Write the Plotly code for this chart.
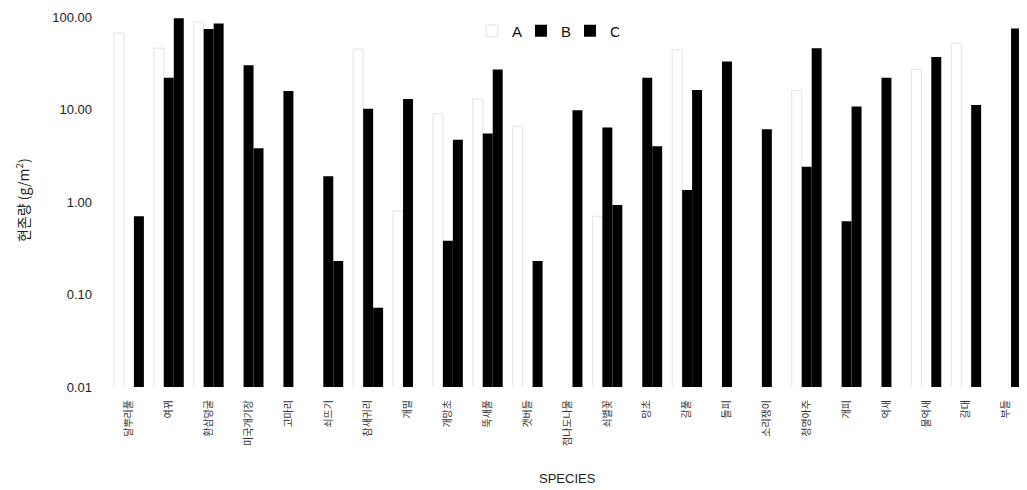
import plotly.graph_objects as go

categories = ["달뿌리풀", "여뀌", "환삼덩굴", "미국개기장", "고마리", "쇠뜨기", "참새귀리",
              "개밀", "개망초", "뚝새풀", "갯버들", "점나도나물", "쇠별꽃", "망초", "갈풀",
              "돌피", "소리쟁이", "청명아주", "개피", "억새", "물억새", "갈대", "부들"]

series_A = [67, 46, 88, None, None, None, 45, 0.8, 9, 13, 6.6, None, 0.7, None, 44,
            None, None, 16, None, None, 27, 52, None]
series_B = [None, 22, 74, 30, 15.8, 1.9, 10.2, 13, 0.38, 5.5, None, None, 6.4, 22, 1.35,
            33, 6.1, 2.4, 0.62, 22, None, None, None]
series_C = [0.7, 97, 85, 3.8, None, 0.23, 0.072, None, 4.7, 27, 0.23, 9.8, 0.93, 4.0, 16.2,
            None, None, 46, 10.8, None, 37, 11.2, 75]

y_tickvals = [0.01, 0.1, 1, 10, 100]
y_ticktext = ["0.01", "0.10", "1.00", "10.00", "100.00"]

FONT = "Liberation Sans, Arial, Noto Sans CJK KR, sans-serif"
KFONT = "Noto Sans CJK KR, Liberation Sans, sans-serif"

fig = go.Figure()
fig.add_trace(go.Bar(name="A", x=categories, y=series_A,
                     marker=dict(color="rgba(255,255,255,0)",
                                 line=dict(color="#e2e2e2", width=1))))
fig.add_trace(go.Bar(name="B", x=categories, y=series_B,
                     marker=dict(color="#000000", line=dict(width=0))))
fig.add_trace(go.Bar(name="C", x=categories, y=series_C,
                     marker=dict(color="#000000", line=dict(width=0))))

# the page body adds an 8px offset, so the figure is sized to fit the window
fig.update_layout(
    width=1019, height=482,
    margin=dict(l=101, r=1, t=9, b=103),
    paper_bgcolor="white", plot_bgcolor="white",
    barmode="group", bargap=0.25, bargroupgap=0,
    font=dict(family=FONT, color="#222222"),
    showlegend=True,
    legend=dict(orientation="h", x=0.476, xanchor="center", y=0.962, yanchor="middle",
                font=dict(size=15, family=FONT, color="#111111"),
                bgcolor="rgba(0,0,0,0)", itemwidth=30,
                entrywidth=4, entrywidthmode="pixels"),
)

fig.update_xaxes(type="category", showgrid=False, zeroline=False, showline=False,
                 automargin=False,
                 tickangle=-90, ticks="", ticklabelstandoff=10,
                 tickfont=dict(size=10, family=KFONT, color="#333333"))
fig.update_yaxes(type="log", range=[-2, 2], showgrid=False, zeroline=False, showline=False,
                 automargin=False,
                 tickvals=y_tickvals, ticktext=y_ticktext, ticks="", ticklabelstandoff=16,
                 tickfont=dict(size=13, family=FONT, color="#222222"))

fig.add_annotation(text="현존량 (g/m<sup>2</sup>)", xref="paper", yref="paper",
                   x=-0.095, y=0.505, xanchor="center", yanchor="middle",
                   textangle=-90, showarrow=False,
                   font=dict(size=14, family=KFONT, color="#222222"))
fig.add_annotation(text="SPECIES", xref="paper", yref="paper",
                   x=0.4995, y=-0.246, xanchor="center", yanchor="middle",
                   showarrow=False,
                   font=dict(size=13, family=FONT, color="#222222"))

fig.write_html("out.html")
